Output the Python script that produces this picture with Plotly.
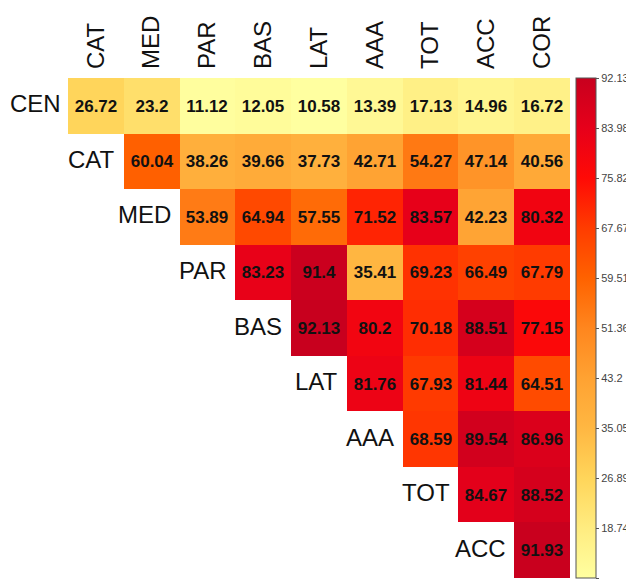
import plotly.graph_objects as go

col_labels = ["CAT", "MED", "PAR", "BAS", "LAT", "AAA", "TOT", "ACC", "COR"]
row_labels = ["CEN", "CAT", "MED", "PAR", "BAS", "LAT", "AAA", "TOT", "ACC"]

row_CEN = [26.72, 23.2, 11.12, 12.05, 10.58, 13.39, 17.13, 14.96, 16.72]
row_CAT = [60.04, 38.26, 39.66, 37.73, 42.71, 54.27, 47.14, 40.56]
row_MED = [53.89, 64.94, 57.55, 71.52, 83.57, 42.23, 80.32]
row_PAR = [83.23, 91.4, 35.41, 69.23, 66.49, 67.79]
row_BAS = [92.13, 80.2, 70.18, 88.51, 77.15]
row_LAT = [81.76, 67.93, 81.44, 64.51]
row_AAA = [68.59, 89.54, 86.96]
row_TOT = [84.67, 88.52]
row_ACC = [91.93]

rows = [row_CEN, row_CAT, row_MED, row_PAR, row_BAS, row_LAT, row_AAA, row_TOT, row_ACC]
n = len(col_labels)
z = []
text = []
for i, r in enumerate(rows):
    pad = n - len(r)
    z.append([None] * pad + r)
    text.append([""] * pad + [str(v) for v in r])

zmin, zmax = 10.58, 92.13
tickvals = [zmin + k * (zmax - zmin) / 10 for k in range(11)]
ticktext = ["10.58", "18.74", "26.89", "35.05", "43.2", "51.36", "59.51", "67.67", "75.82", "83.98", "92.13"]

colorscale = [
    [0.0, "#FFFFA0"],
    [0.1, "#FFEC80"],
    [0.2, "#FFD55A"],
    [0.3, "#FFB742"],
    [0.4, "#FFA232"],
    [0.5, "#FF861E"],
    [0.6, "#FF6200"],
    [0.7, "#FF3C00"],
    [0.8, "#FF0A06"],
    [0.9, "#E6001A"],
    [1.0, "#C8001E"],
]

FONT = "Liberation Sans, Arial"

# page has an 8px body margin, so the figure is drawn 8px smaller and offset
W, H = 626, 574
L, T = 60, 70
R = W - 562
B = H - 570
plot_w = W - L - R

fig = go.Figure(go.Heatmap(
    z=z, x=list(range(n)), y=list(range(n)),
    text=text, texttemplate="<b>%{text}</b>",
    textfont=dict(family=FONT, size=17, color="#111111"),
    colorscale=colorscale, zmin=zmin, zmax=zmax,
    hoverongaps=False,
    colorbar=dict(
        x=(568 - L) / plot_w, xanchor="left", xpad=0, thickness=20, len=1.0, lenmode="fraction",
        y=0.5, yanchor="middle", ypad=0,
        outlinewidth=1, outlinecolor="#555555",
        tickmode="array", tickvals=tickvals, ticktext=ticktext,
        ticks="outside", ticklen=3, tickcolor="#555555",
        tickfont=dict(family=FONT, size=11, color="#444444"),
    ),
))

for i, lab in enumerate(row_labels):
    if i == 0:
        fig.add_annotation(
            x=0, y=i, xref="paper", yref="y", text=lab, showarrow=False,
            xanchor="right", yanchor="middle", xshift=-5, yshift=2,
            font=dict(family=FONT, size=24, color="#111111"),
        )
    else:
        fig.add_annotation(
            x=i - 1 + 0.38, y=i, xref="x", yref="y", text=lab, showarrow=False,
            xanchor="right", yanchor="middle", yshift=2,
            font=dict(family=FONT, size=24, color="#111111"),
        )

fig.update_xaxes(
    side="top", tickmode="array", tickvals=list(range(n)), ticktext=col_labels,
    tickangle=-90, tickfont=dict(family=FONT, size=24, color="#111111"),
    ticklabelstandoff=8,
    showgrid=False, zeroline=False, showline=False, ticks="", range=[-0.5, n - 0.5],
    automargin=False,
)
fig.update_yaxes(
    autorange=False, range=[n - 0.5, -0.5], showticklabels=False,
    showgrid=False, zeroline=False, showline=False, ticks="", automargin=False,
)
fig.update_layout(
    width=W, height=H,
    margin=dict(l=L, r=R, t=T, b=B, autoexpand=False),
    paper_bgcolor="white", plot_bgcolor="white",
)
fig.write_html("out.html")
